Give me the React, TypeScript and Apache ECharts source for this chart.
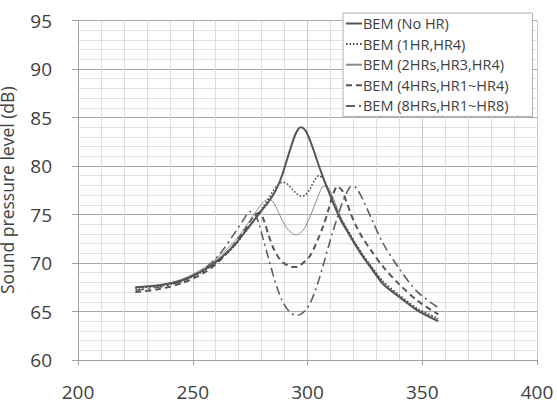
import React, { useEffect, useRef } from "react";
import * as echarts from "echarts";

const freq = [225, 235, 245, 255, 262, 268, 272, 275, 277, 279, 281, 283, 285, 287, 289, 291, 293, 295, 297, 299, 301, 303, 305, 307, 309, 311, 313, 315, 317, 319, 321, 324, 328, 333, 340, 348, 357];

const noHr = [67.5, 67.7, 68.2, 69.3, 70.5, 71.8, 73.0, 73.9, 74.5, 75.1, 75.7, 76.3, 77.0, 77.9, 79.1, 80.6, 82.1, 83.4, 84.0, 83.7, 82.7, 81.4, 80.0, 78.7, 77.5, 76.3, 75.2, 74.2, 73.4, 72.6, 71.8, 70.7, 69.4, 67.8, 66.5, 65.1, 64.0];
const hr1 = [67.4, 67.6, 68.1, 69.2, 70.4, 71.7, 72.9, 73.8, 74.5, 75.2, 75.9, 76.6, 77.4, 78.0, 78.3, 78.2, 77.7, 77.2, 76.9, 77.0, 77.6, 78.5, 79.0, 78.6, 77.6, 76.5, 75.4, 74.4, 73.6, 72.8, 72.0, 70.9, 69.6, 68.1, 66.7, 65.3, 64.3];
const hr2 = [67.5, 67.7, 68.3, 69.5, 70.8, 72.2, 73.4, 74.4, 75.1, 75.8, 76.3, 76.6, 76.3, 75.4, 74.4, 73.6, 73.1, 72.9, 73.1, 73.7, 74.7, 75.9, 77.1, 77.9, 77.8, 76.8, 75.6, 74.5, 73.6, 72.8, 72.0, 70.9, 69.6, 68.0, 66.6, 65.2, 64.2];
const hr4 = [67.0, 67.3, 67.9, 69.0, 70.3, 71.9, 73.2, 74.3, 74.9, 75.2, 74.4, 72.9, 71.6, 70.7, 70.1, 69.8, 69.6, 69.6, 69.8, 70.2, 70.7, 71.6, 72.7, 73.9, 75.4, 77.0, 77.9, 77.5, 76.3, 75.0, 73.9, 72.6, 71.2, 69.6, 67.8, 66.1, 64.7];
const hr8 = [67.2, 67.5, 68.1, 69.4, 71.0, 73.0, 74.4, 75.3, 75.1, 73.9, 72.2, 70.5, 68.8, 67.3, 66.1, 65.3, 64.8, 64.6, 64.7, 65.1, 65.8, 66.9, 68.3, 69.9, 71.6, 73.2, 74.7, 76.1, 77.2, 77.9, 77.8, 76.6, 74.5, 72.0, 69.4, 67.0, 65.4];

const seriesNames = [
  "BEM (No HR)",
  "BEM (1HR,HR4)",
  "BEM (2HRs,HR3,HR4)",
  "BEM (4HRs,HR1~HR4)",
  "BEM (8HRs,HR1~HR8)",
];

const FONT = "'Open Sans', 'Noto Sans', sans-serif";

export default function App() {
  const ref = useRef<HTMLDivElement>(null);
  useEffect(() => {
    if (!ref.current) return;
    const chart = echarts.init(ref.current, undefined, { renderer: "svg" });
    const mk = (arr: number[]) => freq.map((f, i) => [f, arr[i]]);
    const styles = [
      { color: "#555555", width: 2, type: "solid" as any },
      { color: "#404040", width: 1.5, type: [1.5, 2] as any },
      { color: "#8a8a8a", width: 1, type: "solid" as any },
      { color: "#555555", width: 2, type: [6, 4] as any },
      { color: "#606060", width: 1.6, type: [9, 4, 2, 4] as any },
    ];
    const datas = [noHr, hr1, hr2, hr4, hr8];
    chart.setOption({
      animation: false,
      textStyle: { fontFamily: FONT },
      grid: { left: 78, right: 20, top: 20.5, bottom: 52, containLabel: false, outerBoundsMode: "none" },
      legend: {
        orient: "vertical",
        left: 343,
        top: 13,
        itemWidth: 16,
        itemHeight: 14,
        itemGap: 5.6,
        padding: [3, 24, 3, 2],
        backgroundColor: "#ffffff",
        borderColor: "#b0b0b0",
        borderWidth: 1,
        borderRadius: 0,
        itemStyle: { opacity: 0 },
        textStyle: { fontFamily: FONT, fontSize: 14.5, color: "#404040", padding: [0, 0, 0, -4] },
        data: seriesNames,
      },
      xAxis: {
        type: "value",
        min: 200,
        max: 400,
        interval: 50,
        name: "Frequency (Hz)",
        nameLocation: "middle",
        nameGap: 55,
        nameTextStyle: { fontFamily: FONT, fontSize: 18, color: "#404040", padding: [0, 0, 0, 12] },
        axisLine: { show: true, lineStyle: { color: "#a0a0a0", width: 1 } },
        axisTick: { show: true, length: 5, lineStyle: { color: "#a0a0a0" } },
        axisLabel: { margin: 22, fontSize: 19, color: "#404040", fontFamily: FONT },
        splitLine: { show: true, lineStyle: { color: "#c8c8c8", width: 1 } },
        minorTick: { show: false, splitNumber: 5 },
        minorSplitLine: { show: true, lineStyle: { color: "#dcdcdc", width: 1 } },
      },
      yAxis: {
        type: "value",
        min: 60,
        max: 95,
        interval: 5,
        name: "Sound pressure level (dB)",
        nameLocation: "middle",
        nameGap: 62,
        nameRotate: 90,
        nameTextStyle: { fontFamily: FONT, fontSize: 17.5, color: "#404040" },
        axisLine: { show: true, lineStyle: { color: "#a0a0a0", width: 1 } },
        axisTick: { show: true, length: 6, lineStyle: { color: "#a0a0a0" } },
        axisLabel: { margin: 26, fontSize: 19, color: "#404040", fontFamily: FONT },
        splitLine: { show: true, lineStyle: { color: "#a8a8a8", width: 1 } },
        minorTick: { show: false, splitNumber: 5 },
        minorSplitLine: { show: true, lineStyle: { color: "#e0e0e0", width: 1 } },
      },
      series: datas.map((d, i) => ({
        name: seriesNames[i],
        type: "line",
        data: mk(d),
        symbol: "none",
        showSymbol: false,
        smooth: 0.3,
        lineStyle: styles[i],
        itemStyle: { color: styles[i].color },
        z: 5 - i,
      })),
    });
    return () => chart.dispose();
  }, []);
  return (
    <div
      ref={ref}
      style={{ position: "fixed", left: 0, top: 0, width: 557, height: 412, background: "#ffffff" }}
    />
  );
}
